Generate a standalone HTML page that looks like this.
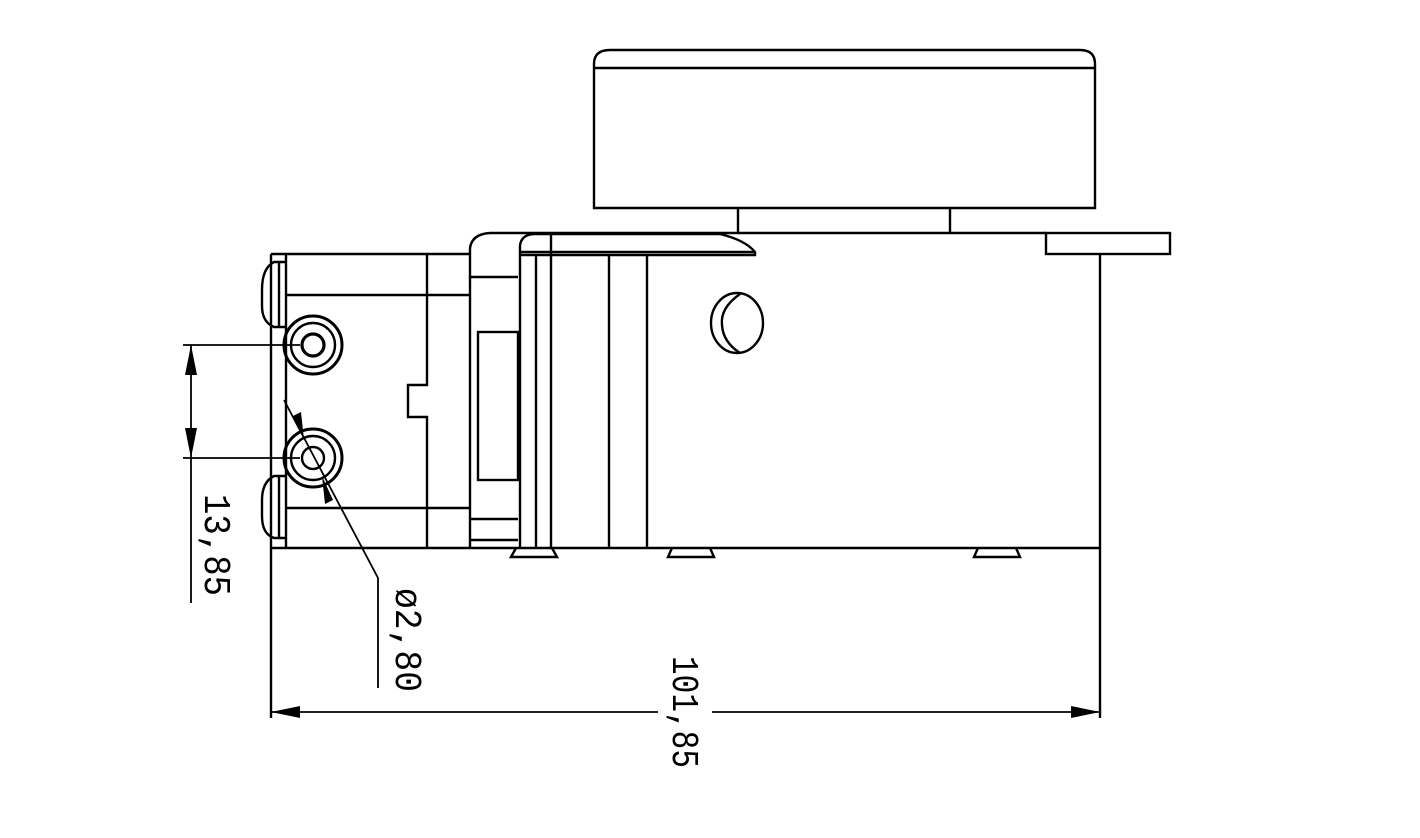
<!DOCTYPE html>
<html><head><meta charset="utf-8"><style>html,body{margin:0;padding:0;background:#fff}svg{display:block}</style></head>
<body>
<svg width="1420" height="838" viewBox="0 0 1420 838" xmlns="http://www.w3.org/2000/svg" fill="none" stroke="#000" stroke-width="2.4">
<path d="M594 208 L594 64 Q594 50 610 50 L1080 50 Q1095 50 1095 64 L1095 208 Z"/>
<line x1="594" y1="68" x2="1095" y2="68"/>
<line x1="738" y1="208" x2="738" y2="233"/>
<line x1="950" y1="208" x2="950" y2="233"/>
<line x1="490" y1="233" x2="1046" y2="233"/>
<rect x="1046" y="233" width="124" height="21"/>
<line x1="1100" y1="254" x2="1100" y2="718"/>
<line x1="271" y1="548" x2="1100" y2="548"/>
<line x1="609" y1="254" x2="609" y2="548"/>
<line x1="647" y1="254" x2="647" y2="548"/>
<path d="M520 548 L520 245 Q522 234 535 234 L720 234 Q745 240 755 252 L755 255 L520 255"/>
<line x1="520" y1="252" x2="755" y2="252"/>
<line x1="536" y1="255" x2="536" y2="548"/>
<line x1="551" y1="234" x2="551" y2="548"/>
<path d="M470 548 L470 248 Q472 234 490 233"/>
<line x1="470" y1="277" x2="518" y2="277"/>
<rect x="478" y="332" width="40" height="148"/>
<line x1="470" y1="519" x2="518" y2="519"/>
<line x1="470" y1="540" x2="518" y2="540"/>
<line x1="271" y1="254" x2="470" y2="254"/>
<line x1="271" y1="254" x2="271" y2="718"/>
<line x1="286" y1="254" x2="286" y2="548"/>
<line x1="286" y1="295" x2="470" y2="295"/>
<line x1="286" y1="508" x2="470" y2="508"/>
<path d="M427 254 L427 385 L408 385 L408 417 L427 417 L427 548"/>
<path d="M286 262 L274 262 Q262 268 262 290 L262 306 Q262 322 274 327 L286 327"/>
<line x1="279" y1="262" x2="279" y2="327"/>
<path d="M286 476 L274 476 Q262 482 262 500 L262 516 Q262 534 274 538 L286 538"/>
<line x1="279" y1="476" x2="279" y2="538"/>
<circle cx="313" cy="345" r="29" stroke-width="3"/><circle cx="313" cy="345" r="22"/><circle cx="313" cy="345" r="11" stroke-width="3.2"/>
<circle cx="313" cy="458" r="29" stroke-width="3"/><circle cx="313" cy="458" r="22"/><circle cx="313" cy="458" r="11"/>
<ellipse cx="737" cy="323" rx="26" ry="30"/>
<path d="M740 294 Q720 308 722 325 Q723 342 740 353" />
<path d="M516 548 L511 557 L557 557 L552 548"/>
<path d="M672 548 L668 557 L714 557 L710 548"/>
<path d="M978 548 L974 557 L1020 557 L1016 548"/>
<line x1="183" y1="345" x2="300" y2="345" stroke-width="1.8"/>
<line x1="183" y1="458" x2="300" y2="458" stroke-width="1.8"/>
<line x1="191" y1="345" x2="191" y2="603" stroke-width="1.8"/>
<path d="M191 345 L185 375 L197 375 Z M191 458 L185 428 L197 428 Z" fill="#000" stroke="none"/>
<polyline points="284,400 378,578 378,688" stroke-width="1.8"/>
<path d="M304 440 L293 416 L301 412 Z M322 476 L333 500 L325 504 Z" fill="#000" stroke="none"/>
<line x1="271" y1="712" x2="658" y2="712" stroke-width="1.8"/>
<line x1="712" y1="712" x2="1100" y2="712" stroke-width="1.8"/>
<path d="M271 712 L300 706 L300 718 Z M1100 712 L1071 706 L1071 718 Z" fill="#000" stroke="none"/>
<g fill="#000" stroke="none" font-family="Liberation Mono, monospace" font-size="38">
<text transform="translate(205,494) rotate(90)" textLength="102" lengthAdjust="spacingAndGlyphs">13,85</text>
<text transform="translate(396,588) rotate(90)" textLength="104" lengthAdjust="spacingAndGlyphs">ø2,80</text>
<text transform="translate(673,656) rotate(90)" textLength="112" lengthAdjust="spacingAndGlyphs">101,85</text>
</g>
</svg>
</body></html>
